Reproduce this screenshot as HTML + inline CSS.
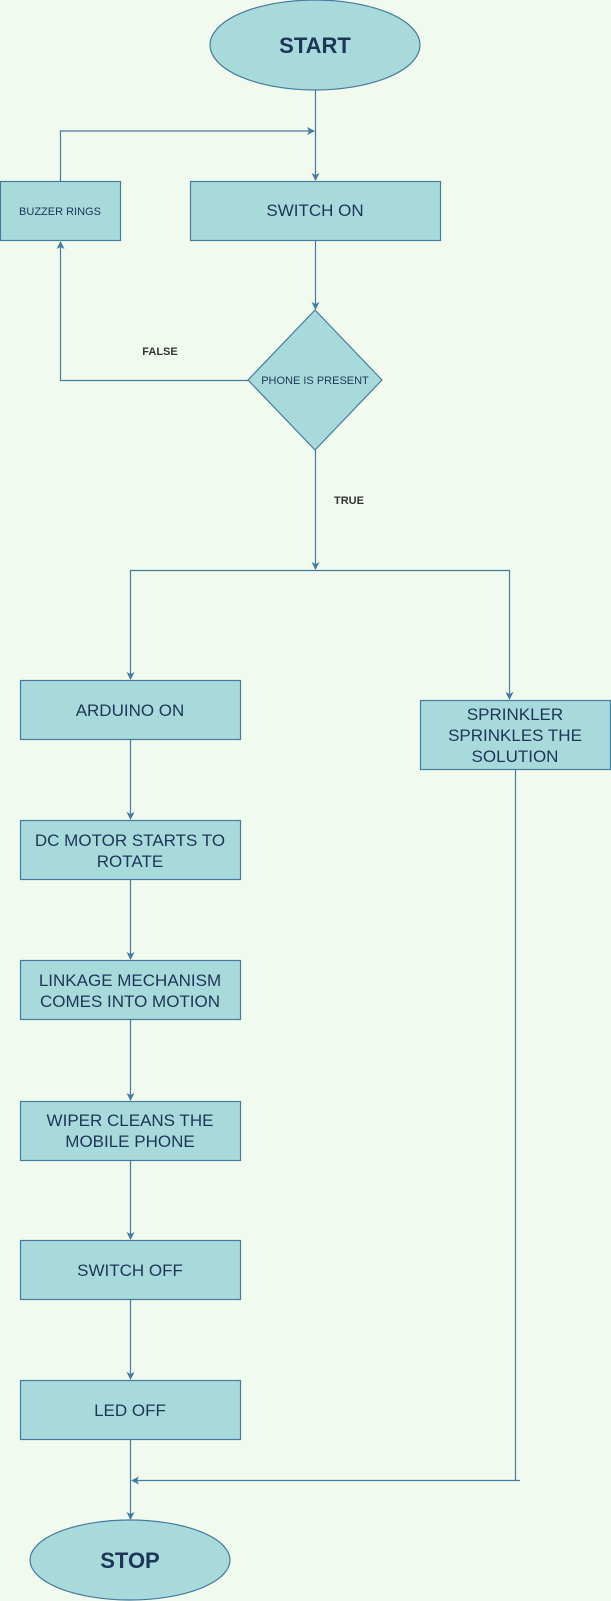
<!DOCTYPE html>
<html><head><style>html,body{margin:0;padding:0;background:#f1faee;}svg{display:block}</style></head>
<body>
<svg width="611" height="1601" viewBox="0 0 611 1601" xmlns="http://www.w3.org/2000/svg" font-family="Liberation Sans, sans-serif">
<defs><marker id="a" markerWidth="8" markerHeight="8" refX="7" refY="4" orient="auto" markerUnits="userSpaceOnUse"><path d="M0,0 L8,4 L0,8 L2,4 Z" fill="#457b9d"/></marker></defs>
<rect width="611" height="1601" fill="#f1faee"/>
<g fill="#a8dadc" stroke="#457b9d" stroke-width="1.2">
<ellipse cx="315" cy="45" rx="105" ry="45"/>
<rect x="190.5" y="181.5" width="250" height="59"/>
<rect x="0.5" y="181.5" width="120" height="59"/>
<polygon points="315,310 382,380 315,450 248,380"/>
<rect x="20.5" y="680.5" width="220" height="59"/>
<rect x="420.5" y="700.5" width="190" height="69"/>
<rect x="20.5" y="820.5" width="220" height="59"/>
<rect x="20.5" y="960.5" width="220" height="59"/>
<rect x="20.5" y="1101.5" width="220" height="59"/>
<rect x="20.5" y="1240.5" width="220" height="59"/>
<rect x="20.5" y="1380.5" width="220" height="59"/>
<ellipse cx="130" cy="1560" rx="100" ry="40"/>
</g>
<g fill="none" stroke="#457b9d" stroke-width="1.2">
<path d="M315.5 90 V180" marker-end="url(#a)"/>
<path d="M60.5 181 V131 H314" marker-end="url(#a)"/>
<path d="M315.5 241 V309" marker-end="url(#a)"/>
<path d="M248 380.5 H60.5 V242" marker-end="url(#a)"/>
<path d="M315.5 450 V569" marker-end="url(#a)"/>
<path d="M315 570.5 H130.5 V679" marker-end="url(#a)"/>
<path d="M315 570.5 H509.5 V699" marker-end="url(#a)"/>
<path d="M130.5 740 V819" marker-end="url(#a)"/>
<path d="M130.5 880 V959" marker-end="url(#a)"/>
<path d="M130.5 1020 V1100" marker-end="url(#a)"/>
<path d="M130.5 1161 V1239" marker-end="url(#a)"/>
<path d="M130.5 1300 V1379" marker-end="url(#a)"/>
<path d="M130.5 1440 V1519" marker-end="url(#a)"/>
<path d="M515.5 770 V1480"/>
<path d="M520 1480.5 H132" marker-end="url(#a)"/>
</g>
<g fill="#1d3557" text-anchor="middle">
<text x="315" y="53" font-size="22" font-weight="bold">START</text>
<text x="315" y="216" font-size="17">SWITCH ON</text>
<text x="60" y="215" font-size="11">BUZZER RINGS</text>
<text x="315" y="384" font-size="11">PHONE IS PRESENT</text>
<text x="160" y="355" font-size="11" font-weight="bold" fill="#333">FALSE</text>
<text x="349" y="504" font-size="11" font-weight="bold" fill="#333">TRUE</text>
<text x="130" y="716" font-size="17">ARDUINO ON</text>
<text x="515" y="720" font-size="17">SPRINKLER</text>
<text x="515" y="741" font-size="17">SPRINKLES THE</text>
<text x="515" y="762" font-size="17">SOLUTION</text>
<text x="130" y="846" font-size="17">DC MOTOR STARTS TO</text>
<text x="130" y="867" font-size="17">ROTATE</text>
<text x="130" y="986" font-size="17">LINKAGE MECHANISM</text>
<text x="130" y="1007" font-size="17">COMES INTO MOTION</text>
<text x="130" y="1126" font-size="17">WIPER CLEANS THE</text>
<text x="130" y="1147" font-size="17">MOBILE PHONE</text>
<text x="130" y="1276" font-size="17">SWITCH OFF</text>
<text x="130" y="1416" font-size="17">LED OFF</text>
<text x="130" y="1568" font-size="22" font-weight="bold">STOP</text>
</g>
</svg>
</body></html>
